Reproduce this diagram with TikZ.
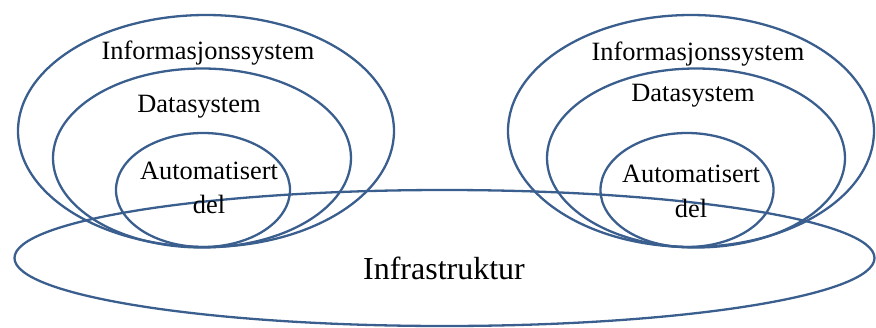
\documentclass[tikz,border=0pt]{standalone}
\usepackage{fontspec}
\setmainfont{Liberation Serif}
\usetikzlibrary{shapes.geometric}
\definecolor{ringblue}{HTML}{3A5F8E}
\tikzset{
  ring/.style={ellipse, draw=ringblue, line width=2.3pt, inner sep=0pt, outer sep=0pt},
  lbl/.style={anchor=base, inner sep=0pt, font=\fontsize{26.4}{30}\selectfont},
  biglbl/.style={anchor=base, inner sep=0pt, font=\fontsize{32}{36}\selectfont}
}
\begin{document}
\begin{tikzpicture}[x=1pt,y=1pt]
\useasboundingbox (0,0) rectangle (876,-327);
% left group
\node[ring, minimum width=376pt, minimum height=232pt] (infoL) at (206,-131) {};
\node[ring, minimum width=298pt, minimum height=179pt] (dataL) at (202,-158) {};
\node[ring, minimum width=174pt, minimum height=114pt] (autoL) at (203,-190) {};
% right group
\node[ring, minimum width=366pt, minimum height=232pt] (infoR) at (691,-131) {};
\node[ring, minimum width=298pt, minimum height=179pt] (dataR) at (696,-158) {};
\node[ring, minimum width=173pt, minimum height=114pt] (autoR) at (687,-190) {};
% infrastructure
\node[ring, minimum width=860pt, minimum height=136pt] (infra) at (444.5,-258) {};
% labels
\node[lbl] (tInfoL) at (208,-59) {Informasjonssystem};
\node[lbl] (tDataL) at (199,-112) {Datasystem};
\node[lbl] (tAutoL) at (209,-179) {Automatisert};
\node[lbl] (tDelL) at (209,-213) {del};
\node[lbl] (tInfoR) at (698,-60) {Informasjonssystem};
\node[lbl] (tDataR) at (693,-101) {Datasystem};
\node[lbl] (tAutoR) at (691,-182) {Automatisert};
\node[lbl] (tDelR) at (691,-217) {del};
\node[biglbl] (tInfra) at (444,-279) {Infrastruktur};
\end{tikzpicture}
\end{document}
